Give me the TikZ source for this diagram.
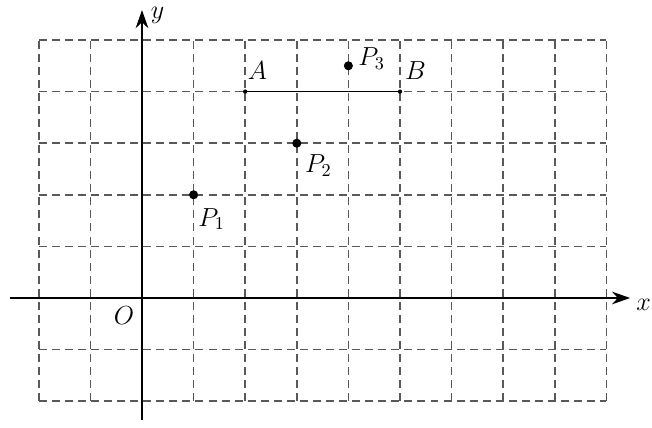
\documentclass[tikz,border=0pt]{standalone}
\usetikzlibrary{arrows.meta}
\begin{document}
\begin{tikzpicture}[x=1cm,y=1cm,
  gridline/.style={draw=black!65, line width=0.85pt, dash pattern=on 4.4pt off 2.8pt},
  axis/.style={draw=black, line width=0.7pt, -{Stealth[length=10pt,width=7pt]}},
  dot/.style={circle, fill=black, inner sep=0pt, minimum size=5pt},
  lbl/.style={font=\fontsize{14}{16}\selectfont, inner sep=1pt}]
\useasboundingbox (-2.752,-2.519) rectangle (9.884,5.775);
% grid
\foreach \i in {-2,...,9} \draw[gridline] (\i,-2) -- (\i,5);
\foreach \j in {-2,...,5} \draw[gridline] (-2,\j) -- (9,\j);
% axes
\coordinate (xs) at (-2.56,0);
\coordinate (xe) at (9.46,0);
\coordinate (ys) at (0,-2.36);
\coordinate (ye) at (0,5.58);
\draw[axis] (xs) -- (xe);
\draw[axis] (ys) -- (ye);
\node[lbl] (xl) at (9.72,-0.14) {$x$};
\node[lbl] (yl) at (0.3,5.47) {$y$};
\node[lbl] (O) at (-0.35,-0.35) {$O$};
% points
\coordinate (A) at (2,4);
\coordinate (B) at (5,4);
\draw[line width=0.6pt] (A) -- (B);
\fill (A) circle (1.2pt) (B) circle (1.2pt);
\node[lbl] (Al) at (2.24,4.4) {$A$};
\node[lbl] (Bl) at (5.3,4.4) {$B$};
\node[dot] (P3) at (4,4.5) {};
\node[dot] (P2) at (3,3) {};
\node[dot] (P1) at (1,2) {};
\node[lbl, anchor=west] (P3l) at (4.15,4.64) {$P_3$};
\node[lbl, anchor=west] (P2l) at (3.12,2.56) {$P_2$};
\node[lbl, anchor=west] (P1l) at (1.05,1.53) {$P_1$};
\end{tikzpicture}
\end{document}
